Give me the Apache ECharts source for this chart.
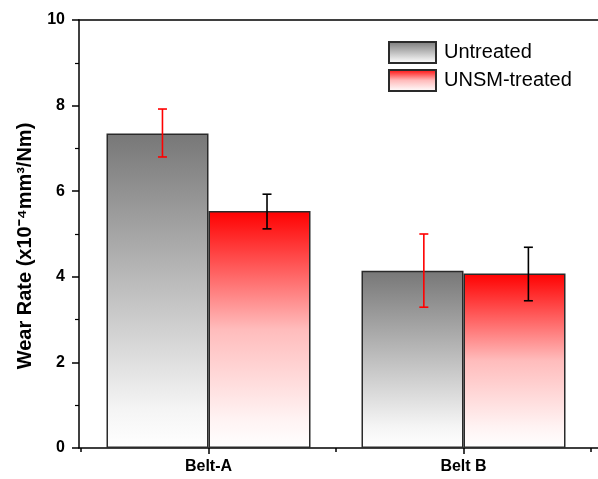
<!DOCTYPE html>
<html>
<head>
<meta charset="utf-8">
<script src="https://cdn.jsdelivr.net/npm/echarts@6/dist/echarts.min.js"></script>
<style>html,body{margin:0;padding:0;background:#fff;}#c{width:598px;height:479px;}</style>
</head>
<body>
<div id="c"></div>
<script>
const categories = ['Belt-A', 'Belt B'];
const untreated = [7.35, 4.14];
const unsmTreated = [5.54, 4.08];
const untreatedErrLow = [6.80, 3.29];
const untreatedErrHigh = [7.92, 5.00];
const unsmErrLow = [5.12, 3.44];
const unsmErrHigh = [5.93, 4.69];
const yTicks = [0, 2, 4, 6, 8, 10];

const FONT = '"Liberation Sans", Arial, sans-serif';
const grayGrad = new echarts.graphic.LinearGradient(0, 0, 0, 1, [
  {offset: 0, color: '#777777'},
  {offset: 0.5, color: '#bfbfbf'},
  {offset: 0.88, color: '#f5f5f5'},
  {offset: 1, color: '#ffffff'}
]);
const redGrad = new echarts.graphic.LinearGradient(0, 0, 0, 1, [
  {offset: 0, color: '#ff0000'},
  {offset: 0.5, color: '#ffbcbc'},
  {offset: 0.88, color: '#fff3f3'},
  {offset: 1, color: '#ffffff'}
]);

function errRender(sign, color) {
  return function (params, api) {
    const i = api.value(0);
    const band = api.size([1, 0])[0];
    const barW = band * 0.8 / 2;
    const off = sign * barW / 2;
    const pHi = api.coord([i, api.value(2)]);
    const pLo = api.coord([i, api.value(1)]);
    let x = pHi[0] + off;
    // the reference's error bars drift slightly right of the bar centres
    x = x + (x - 79) * 0.025 + 3;
    const cap = 4.5;
    const style = {stroke: color, lineWidth: 1.6};
    return {
      type: 'group',
      children: [
        {type: 'line', shape: {x1: x, y1: pHi[1], x2: x, y2: pLo[1]}, style},
        {type: 'line', shape: {x1: x - cap, y1: pHi[1], x2: x + cap, y2: pHi[1]}, style},
        {type: 'line', shape: {x1: x - cap, y1: pLo[1], x2: x + cap, y2: pLo[1]}, style}
      ]
    };
  };
}

const chart = echarts.init(document.getElementById('c'));
chart.setOption({
  backgroundColor: '#fff',
  animation: false,
  textStyle: {fontFamily: FONT},
  legend: {
    orient: 'vertical',
    left: 388, top: 41, padding: 0,
    icon: 'rect',
    itemWidth: 47, itemHeight: 21, itemGap: 5,
    textStyle: {fontSize: 20, color: '#000', fontFamily: FONT, padding: [0, 0, 0, 3]},
    data: ['Untreated', 'UNSM-treated']
  },
  grid: [
    {left: 81, right: 7, top: 20, bottom: 31},
    {left: 79, right: 0, top: 20, bottom: 31}
  ],
  xAxis: [
    {
      type: 'category', gridIndex: 0, data: categories,
      axisLine: {show: false},
      axisTick: {show: true, alignWithLabel: true, length: 6, lineStyle: {color: '#000', width: 1.5}},
      axisLabel: {fontSize: 16, fontWeight: 'bold', color: '#000', margin: 11, fontFamily: FONT}
    },
    {
      type: 'category', gridIndex: 0, data: categories, position: 'bottom',
      axisLine: {show: false},
      axisTick: {show: true, length: 4, lineStyle: {color: '#000', width: 1.5}},
      axisLabel: {show: false}
    },
    {
      type: 'value', gridIndex: 1, min: 0, max: 1, position: 'bottom',
      axisLine: {show: true, lineStyle: {color: '#000', width: 1.5}},
      axisTick: {show: false}, axisLabel: {show: false}, splitLine: {show: false}
    },
    {
      type: 'value', gridIndex: 1, min: 0, max: 1, position: 'top',
      axisLine: {show: true, lineStyle: {color: '#000', width: 1.5}},
      axisTick: {show: false}, axisLabel: {show: false}, splitLine: {show: false}
    }
  ],
  yAxis: [
    {
      type: 'value', gridIndex: 0, min: yTicks[0], max: yTicks[yTicks.length - 1], interval: 2,
      show: false
    },
    {
      type: 'value', gridIndex: 1, min: yTicks[0], max: yTicks[yTicks.length - 1], interval: 2,
      name: 'Wear Rate (x10\u207B\u2074mm\u00B3/Nm)',
      nameLocation: 'middle', nameGap: 44,
      nameTextStyle: {fontSize: 20, fontWeight: 'bold', color: '#000', fontFamily: FONT, padding: [0, 24, 0, 0]},
      axisLine: {show: true, lineStyle: {color: '#000', width: 1.5}},
      axisTick: {show: true, length: 7, lineStyle: {color: '#000', width: 1.5}},
      minorTick: {show: true, splitNumber: 2, length: 4, lineStyle: {color: '#000', width: 1.2}},
      axisLabel: {fontSize: 16, fontWeight: 'bold', color: '#000', margin: 14, fontFamily: FONT},
      splitLine: {show: false}
    }
  ],
  series: [
    {
      name: 'Untreated', type: 'bar', xAxisIndex: 0, yAxisIndex: 0,
      data: untreated, barGap: '0%', barCategoryGap: '20%',
      itemStyle: {color: grayGrad, borderColor: '#2a2a2a', borderWidth: 1.5}
    },
    {
      name: 'UNSM-treated', type: 'bar', xAxisIndex: 0, yAxisIndex: 0,
      data: unsmTreated, barGap: '0%', barCategoryGap: '20%',
      itemStyle: {color: redGrad, borderColor: '#2a2a2a', borderWidth: 1.5}
    },
    {
      type: 'custom', xAxisIndex: 0, yAxisIndex: 0, z: 5,
      renderItem: errRender(-1, '#ff0000'),
      encode: {x: 0, y: [1, 2]},
      data: categories.map((c, i) => [i, untreatedErrLow[i], untreatedErrHigh[i]])
    },
    {
      type: 'custom', xAxisIndex: 0, yAxisIndex: 0, z: 5,
      renderItem: errRender(1, '#000000'),
      encode: {x: 0, y: [1, 2]},
      data: categories.map((c, i) => [i, unsmErrLow[i], unsmErrHigh[i]])
    }
  ]
});
</script>
</body>
</html>
